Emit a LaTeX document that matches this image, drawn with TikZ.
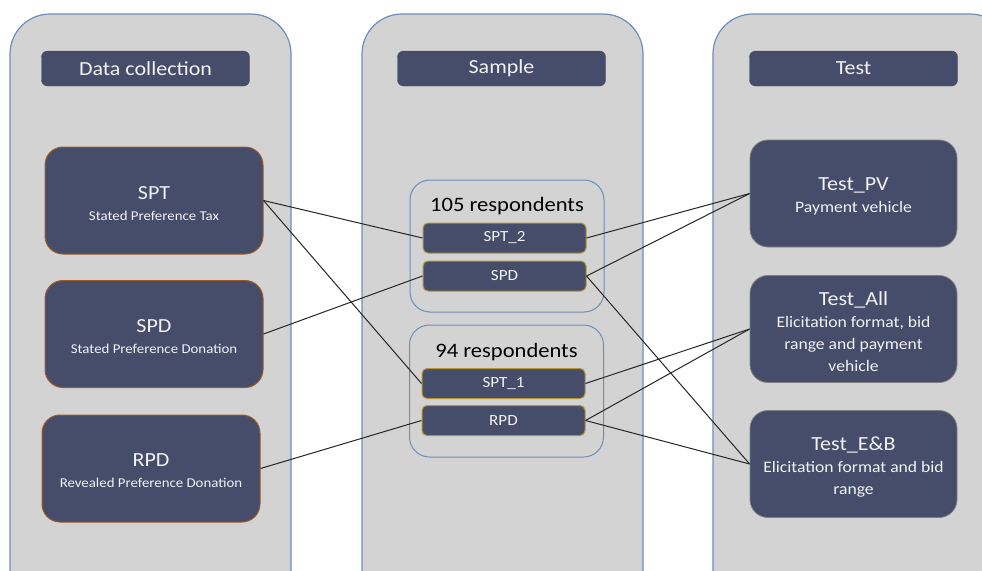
\documentclass[tikz,border=0pt]{standalone}
\usepackage{fontspec}
\setmainfont{Carlito}[FakeStretch=1.1]
\definecolor{panelfill}{HTML}{D3D3D3}
\definecolor{panelline}{HTML}{6F8DBA}
\definecolor{boxfill}{HTML}{454D6B}
\definecolor{leftline}{HTML}{9C5A24}
\definecolor{midline}{HTML}{B39332}
\definecolor{rightline}{HTML}{808080}
\definecolor{boxtext}{HTML}{F2F2F2}
\tikzset{
  panel/.style={fill=panelfill, draw=panelline, line width=1.2pt, rounded corners=40pt},
  header/.style={fill=boxfill, draw=boxfill, rounded corners=6pt, minimum width=208pt, minimum height=35pt, inner sep=0pt, text=boxtext, font=\fontsize{20}{24}\selectfont},
  leftbox/.style={fill=boxfill, draw=leftline, line width=1pt, rounded corners=18pt, minimum width=218pt, minimum height=107pt, inner sep=0pt},
  rightbox/.style={fill=boxfill, draw=rightline, line width=0.8pt, rounded corners=18pt, minimum width=207pt, minimum height=107pt, inner sep=0pt},
  lefttext/.style={inner sep=0pt, text=boxtext, align=center, font=\fontsize{13.5}{21}\selectfont},
  righttext/.style={inner sep=0pt, text=boxtext, align=center, font=\fontsize{16}{22}\selectfont},
  group/.style={fill=panelfill, draw=panelline, line width=1pt, rounded corners=20pt, minimum width=194pt, minimum height=132pt, inner sep=0pt},
  smallbox/.style={fill=boxfill, draw=midline, line width=1pt, rounded corners=5pt, minimum width=163pt, minimum height=30pt, inner sep=0pt, text=boxtext, font=\fontsize{15.5}{18}\selectfont},
  grouptitle/.style={inner sep=0pt, text=black, font=\fontsize{20.5}{24}\selectfont},
  link/.style={draw=black!85, line width=1pt},
}
\newcommand{\ttl}{\fontsize{20}{22}\selectfont}
\begin{document}
\begin{tikzpicture}[x=1pt, y=-1pt]
\useasboundingbox (0,0) rectangle (982,570);
\begin{scope}
\clip (0,0) rectangle (982,570);
\fill[white] (0,0) rectangle (982,570);
\draw[panel] (10,14) rectangle (291,640);
\draw[panel] (362,14) rectangle (643,640);
\draw[panel] (713,14) rectangle (1010,640);
\end{scope}

\node[header] (h1) at (145.5,68.5) {Data collection};
\node[header] (h2) at (501.5,68.5) {Sample};
\node[header] (h3) at (853.5,68.5) {Test};

\node[leftbox] (spt) at (154,200.5) {};
\node[lefttext] (spt-t) at ([yshift=-3pt]spt.center) {{\ttl SPT}\\Stated Preference Tax};
\node[leftbox] (spd) at (154,334) {};
\node[lefttext] (spd-t) at ([yshift=-3pt]spd.center) {{\ttl SPD}\\Stated Preference Donation};
\node[leftbox] (rpd) at (151,468.5) {};
\node[lefttext] (rpd-t) at ([yshift=-2pt]rpd.center) {{\ttl RPD}\\Revealed Preference Donation};

\node[group] (g1) at (507,246) {};
\node[grouptitle] (g1t) at (507,206) {105 respondents};
\node[smallbox] (spt2) at (504.5,238) {SPT\_2};
\node[smallbox] (spdm) at (504.5,276) {SPD};

\node[group] (g2) at (506.5,391) {};
\node[grouptitle] (g2t) at (506.5,352) {94 respondents};
\node[smallbox] (spt1) at (503.5,383.5) {SPT\_1};
\node[smallbox] (rpdm) at (503.5,420.5) {RPD};

\node[rightbox] (tpv) at (853.5,193.5) {};
\node[righttext] (tpv-t) at ([yshift=-3pt]tpv.center) {{\ttl Test\_PV}\\Payment vehicle};
\node[rightbox] (tall) at (853.5,329) {};
\node[righttext] (tall-t) at ([yshift=-2.5pt]tall.center) {{\ttl Test\_All}\\Elicitation format, bid\\range and payment\\vehicle};
\node[rightbox] (teb) at (853.5,464) {};
\node[righttext] (teb-t) at ([yshift=-3pt]teb.center) {{\ttl Test\_E\&B}\\Elicitation format and bid\\range};

\draw[link] (spt.east) -- (spt2.west);
\draw[link] (spt.east) -- (spt1.west);
\draw[link] (spd.east) -- (spdm.west);
\draw[link] (rpd.east) -- (rpdm.west);
\draw[link] (spt2.east) -- (tpv.west);
\draw[link] (spdm.east) -- (tpv.west);
\draw[link] (spdm.east) -- (teb.west);
\draw[link] (spt1.east) -- (tall.west);
\draw[link] (rpdm.east) -- (tall.west);
\draw[link] (rpdm.east) -- (teb.west);
\end{tikzpicture}
\end{document}
